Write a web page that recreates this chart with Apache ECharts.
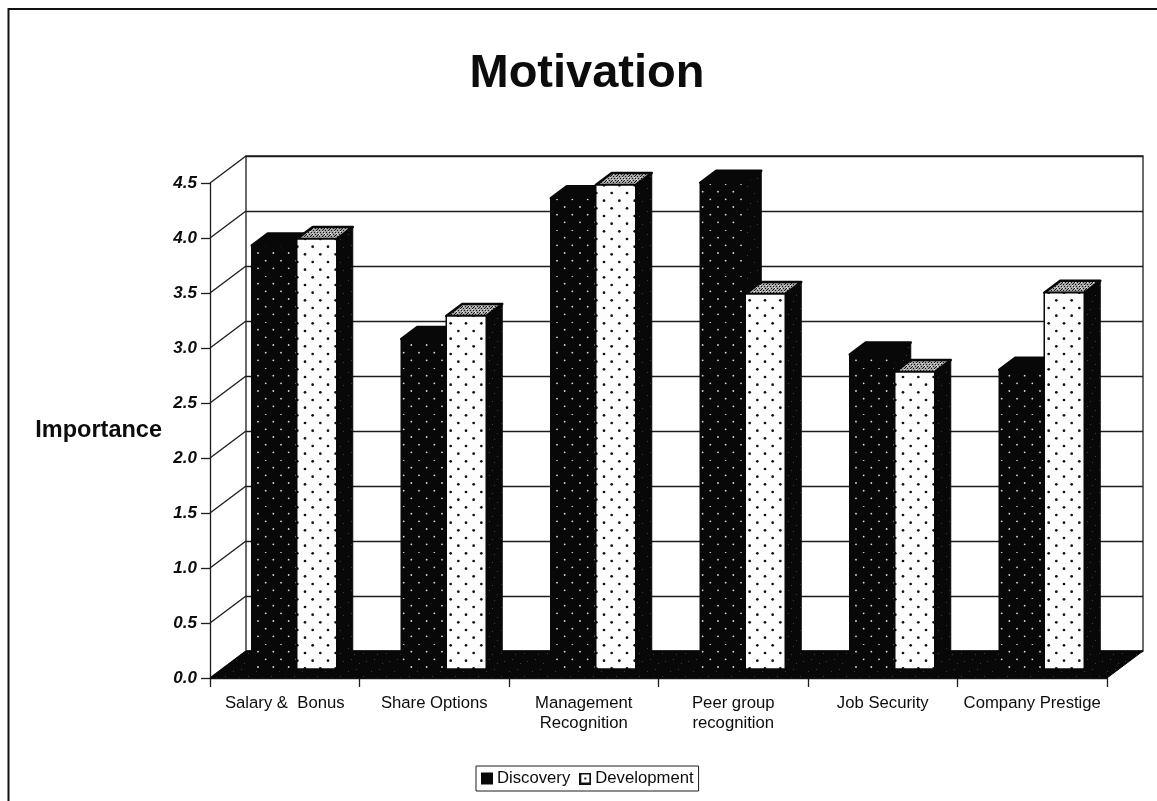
<!DOCTYPE html>
<html>
<head>
<meta charset="utf-8">
<title>Motivation</title>
<script src="https://cdn.jsdelivr.net/npm/echarts@6/dist/echarts.min.js"></script>
<style>
  html, body { margin: 0; padding: 0; background: #fff; }
  #chart { width: 1157px; height: 801px; }
</style>
</head>
<body>
<div id="chart"></div>
<script>
// Survey data
const categories = ['Salary &  Bonus', 'Share Options', 'Management\nRecognition', 'Peer group\nrecognition', 'Job Security', 'Company Prestige'];
const discoveryValues = [3.85, 3.0, 4.28, 4.42, 2.86, 2.72];
const developmentValues = [3.91, 3.21, 4.4, 3.41, 2.7, 3.42];
const valueTicks = [0, 0.5, 1, 1.5, 2, 2.5, 3, 3.5, 4, 4.5];

// Oblique projection used for the pseudo-3D look
const WALL = { dx: 36, dy: -27 };        // front plane to back wall
const BAR_PLANE = { dx: 12, dy: -9 };    // front plane to the front face of the bars
const BAR_DEPTH = { dx: 16, dy: -12 };   // front face to back face of a bar
const WIDTH_DISCOVERY = 45;
const WIDTH_DEVELOPMENT = 40;
const INK = '#080808';
const LINE = '#1c1c1c';

function tile(size, paint) {
  const c = document.createElement('canvas');
  c.width = c.height = size;
  paint(c.getContext('2d'), size);
  return { image: c, repeat: 'repeat' };
}

// Staggered dots; 46px holds exactly three horizontal periods
function dotted(bg, fg, radius, ox, oy) {
  return tile(46, (g, s) => {
    g.fillStyle = bg;
    g.fillRect(0, 0, s, s);
    g.fillStyle = fg;
    for (let j = 0; j < 6; j++) {
      for (let i = 0; i < 3; i++) {
        const x = (ox + (i + (j % 2) / 2) * s / 3) % s;
        const y = (oy + j * s / 6) % s;
        g.beginPath();
        g.arc(x, y, radius, 0, Math.PI * 2);
        g.fill();
      }
    }
  });
}

const fillDiscovery = dotted(INK, '#dcdcdc', 0.9, 28, 23);
const fillDevelopment = dotted('#fdfdfd', '#111', 1.35, 29, 9);

// Coarse halftone for the bar tops
const fillTop = tile(6, (g, s) => {
  g.fillStyle = '#a4a4a4';
  g.fillRect(0, 0, s, s);
  g.fillStyle = '#1a1a1a';
  [[0, 0], [3, 0], [1, 2], [4, 2], [2, 4], [5, 4], [5, 1]].forEach(p => g.fillRect(p[0], p[1], 1, 1));
  g.fillStyle = '#e6e6e6';
  [[1, 0], [4, 3], [0, 5]].forEach(p => g.fillRect(p[0], p[1], 1, 1));
});

// Sparse grain for the black faces
const fillGrain = tile(23, (g, s) => {
  g.fillStyle = INK;
  g.fillRect(0, 0, s, s);
  g.fillStyle = '#3c3c3c';
  [[3, 4], [11, 2], [18, 9], [6, 15], [14, 19], [21, 17], [9, 10]].forEach(p => g.fillRect(p[0], p[1], 1, 1));
});

// Legend swatch for the white, dotted series
const swatch = document.createElement('canvas');
swatch.width = swatch.height = 24;
(function (g) {
  g.fillStyle = '#111';
  g.fillRect(0, 0, 24, 24);
  g.fillStyle = '#fff';
  g.fillRect(4, 4, 16, 16);
  g.fillStyle = '#111';
  g.fillRect(10, 10, 4, 4);
})(swatch.getContext('2d'));

function poly(points, style) {
  return { type: 'polygon', shape: { points }, style: Object.assign({ lineJoin: 'round' }, style) };
}

function shift(p, o) {
  return [p[0] + o.dx, p[1] + o.dy];
}

// One bar: a front face with side and top faces behind it
function barShape(api, x0, x1, front, top) {
  const cat = api.value(0);
  const tip = api.coord([cat, api.value(1)]);
  const base = api.coord([cat, 0]);
  const y0 = base[1] + BAR_PLANE.dy;
  const y1 = tip[1] + BAR_PLANE.dy;
  const cx = tip[0] + BAR_PLANE.dx;
  const tl = [cx + x0, y1], tr = [cx + x1, y1], br = [cx + x1, y0], bl = [cx + x0, y0];
  return {
    type: 'group',
    children: [
      poly([tr, shift(tr, BAR_DEPTH), shift(br, BAR_DEPTH), br], { fill: fillGrain, stroke: INK, lineWidth: 1 }),
      poly([tl, shift(tl, BAR_DEPTH), shift(tr, BAR_DEPTH), tr], { fill: top, stroke: INK, lineWidth: 2.5 }),
      poly([tl, tr, br, bl], { fill: front, stroke: INK, lineWidth: 1.5 })
    ]
  };
}

const option = {
  animation: false,
  backgroundColor: '#fff',
  title: {
    text: 'Motivation',
    left: 582,
    top: 46,
    textAlign: 'center',
    textStyle: { fontFamily: 'Liberation Sans', fontWeight: 'bold', fontSize: 47, color: '#0c0c0c' }
  },
  legend: {
    left: 476,
    top: 766,
    padding: [4, 5],
    itemWidth: 12,
    itemHeight: 12,
    itemGap: 9,
    borderColor: LINE,
    borderWidth: 1,
    backgroundColor: '#fff',
    selectedMode: false,
    textStyle: { fontFamily: 'Liberation Sans', fontSize: 16.7, color: '#0c0c0c', padding: [0, 0, 0, -1] },
    data: [
      { name: 'Discovery', icon: 'rect', itemStyle: { color: INK } },
      { name: 'Development', icon: 'image://' + swatch.toDataURL() }
    ]
  },
  grid: [
    // front plane carrying the labelled axes
    { left: 210, top: 183, width: 897, height: 495 },
    // back wall
    { left: 246, top: 156, width: 897, height: 495, show: true, borderColor: LINE, borderWidth: 1.3, backgroundColor: 'transparent' }
  ],
  xAxis: [
    {
      type: 'category',
      gridIndex: 0,
      data: categories,
      axisLine: { show: true, lineStyle: { color: LINE, width: 1.3 } },
      axisTick: { show: true, length: 9, alignWithLabel: false, lineStyle: { color: LINE, width: 1.3 } },
      axisLabel: {
        interval: 0,
        margin: 15,
        lineHeight: 20,
        fontFamily: 'Liberation Sans',
        fontSize: 16.7,
        color: '#0c0c0c'
      }
    },
    { type: 'category', gridIndex: 1, data: categories, show: false }
  ],
  yAxis: [
    {
      type: 'value',
      gridIndex: 0,
      min: 0,
      max: 4.5,
      interval: 0.5,
      name: 'Importance',
      nameLocation: 'middle',
      nameRotate: 0,
      nameGap: 48,
      nameTextStyle: { fontFamily: 'Liberation Sans', fontWeight: 'bold', fontSize: 23.5, color: '#0c0c0c' },
      axisLine: { show: true, lineStyle: { color: LINE, width: 1.3 } },
      axisTick: { show: true, length: 9, lineStyle: { color: LINE, width: 1.3 } },
      splitLine: { show: false },
      axisLabel: {
        margin: 13,
        formatter: v => v.toFixed(1),
        fontFamily: 'Liberation Sans',
        fontWeight: 'bold',
        fontStyle: 'italic',
        fontSize: 17,
        color: '#0c0c0c'
      }
    },
    {
      type: 'value',
      gridIndex: 1,
      min: 0,
      max: 4.5,
      interval: 0.5,
      axisLine: { show: false },
      axisTick: { show: false },
      axisLabel: { show: false },
      splitLine: { show: true, lineStyle: { color: LINE, width: 1.3 } }
    }
  ],
  series: [
    // Side wall: a diagonal from each value tick back to the wall
    {
      type: 'custom',
      coordinateSystem: 'cartesian2d',
      xAxisIndex: 0,
      yAxisIndex: 0,
      silent: true,
      z: 3,
      data: valueTicks.map(v => [0, v]),
      encode: { x: 0, y: 1 },
      renderItem: (params, api) => {
        const p = api.coord([0, api.value(1)]);
        const x = p[0] - api.size([1, 0])[0] / 2;
        return {
          type: 'line',
          shape: { x1: x, y1: p[1], x2: x + WALL.dx, y2: p[1] + WALL.dy },
          style: { stroke: LINE, lineWidth: 1.3 }
        };
      }
    },
    // Floor
    {
      type: 'custom',
      coordinateSystem: 'cartesian2d',
      xAxisIndex: 0,
      yAxisIndex: 0,
      silent: true,
      z: 4,
      data: [[0, 0]],
      encode: { x: 0, y: 1 },
      renderItem: (params, api) => {
        const band = api.size([1, 0])[0];
        const a = api.coord([0, 0]);
        const b = api.coord([categories.length - 1, 0]);
        const fl = [a[0] - band / 2, a[1]];
        const fr = [b[0] + band / 2, b[1]];
        return poly([fl, fr, shift(fr, WALL), shift(fl, WALL)], { fill: fillGrain, stroke: INK, lineWidth: 1 });
      }
    },
    {
      name: 'Discovery',
      type: 'custom',
      coordinateSystem: 'cartesian2d',
      xAxisIndex: 0,
      yAxisIndex: 0,
      silent: true,
      z: 5,
      itemStyle: { color: INK },
      data: discoveryValues.map((v, i) => [i, v]),
      encode: { x: 0, y: 1 },
      renderItem: (params, api) => barShape(api, -WIDTH_DISCOVERY, 0, fillDiscovery, INK)
    },
    {
      name: 'Development',
      type: 'custom',
      coordinateSystem: 'cartesian2d',
      xAxisIndex: 0,
      yAxisIndex: 0,
      silent: true,
      z: 6,
      itemStyle: { color: '#fff', borderColor: INK },
      data: developmentValues.map((v, i) => [i, v]),
      encode: { x: 0, y: 1 },
      renderItem: (params, api) => barShape(api, 0, WIDTH_DEVELOPMENT, fillDevelopment, fillTop)
    }
  ],
  graphic: [
    // Outer chart frame, open at the page edges
    {
      type: 'polyline',
      silent: true,
      shape: { points: [[8.5, 801], [8.5, 9], [1157, 9]] },
      style: { stroke: '#111', lineWidth: 2, fill: 'none' }
    }
  ]
};

echarts.init(document.getElementById('chart'), null, { renderer: 'canvas' }).setOption(option);
</script>
</body>
</html>
